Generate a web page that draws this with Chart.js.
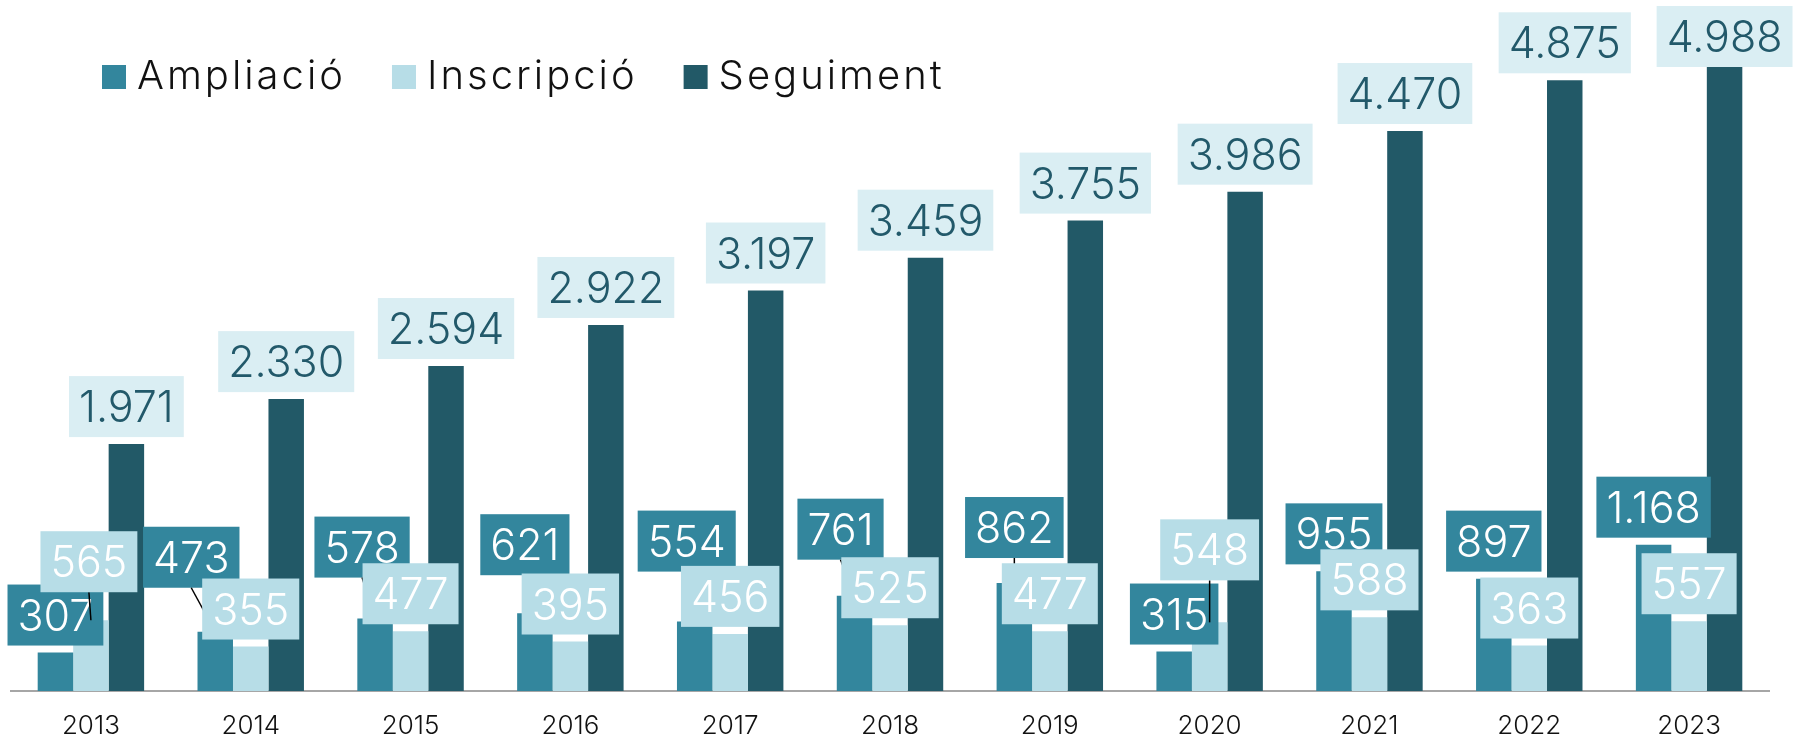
<!DOCTYPE html>
<html>
<head>
<meta charset="utf-8">
<script src="https://cdn.jsdelivr.net/npm/chart.js@4.4.1/dist/chart.umd.min.js"></script>
<style>
html,body{margin:0;padding:0;background:#fff}
#wrap{width:1796px;height:739px;position:relative}
</style>
</head>
<body>
<div id="wrap"><canvas id="chart"></canvas></div>
<script>
const years = ['2013','2014','2015','2016','2017','2018','2019','2020','2021','2022','2023'];
const ampliacio = [307,473,578,621,554,761,862,315,955,897,1168];
const inscripcio = [565,355,477,395,456,525,477,548,588,363,557];
const seguiment = [1971,2330,2594,2922,3197,3459,3755,3986,4470,4875,4988];
const seriesNames = ['Ampliació','Inscripció','Seguiment'];
const barColors = ['#33869d','#b7dde7','#225967'];

// hand-placed label nudges (px) from the original, relative to the default spot above each bar
const ampNudge = [[0,0],[-24,-37],[-13,-34],[-10,-31],[-8,-43],[-14,-29],[0,-18],[0,0],[0,0],[0,0],[0,0]];
const insNudge = [[-2,-21],[0,0],[0,0],[0,0],[0,0],[0,0],[0,0],[0,-35],[0,0],[0,0],[0,0]];

const FONT = 'Inter, "Noto Sans", sans-serif';
const fmt = v => String(v).replace(/\B(?=(\d{3})+(?!\d))/g, '.');

const labelPlugin = {
  id:'boxLabels',
  afterDatasetsDraw(chart){
    const ctx = chart.ctx;
    const styles = [
      {bg:'#33869d', fg:'#ffffff', nudge:ampNudge},
      {bg:'#b7dde7', fg:'#ffffff', nudge:insNudge},
      {bg:'#daeef3', fg:'#22596a', nudge:null}
    ];
    const boxH = 61;
    ctx.save();
    ctx.font = '300 43px ' + FONT;
    const items = styles.map((st,i)=>{
      const meta = chart.getDatasetMeta(i);
      return meta.data.map((bar,j)=>{
        const n = st.nudge ? st.nudge[j] : [0,0];
        const txt = fmt(chart.data.datasets[i].data[j]);
        const w = ctx.measureText(txt).width + 20;
        let cx = bar.x + n[0];
        let cy = bar.y - 37.5 + n[1];
        if(cy - boxH/2 < 6) cy = 6 + boxH/2;
        return {cx, cy, w, txt, st, bar, moved: Math.abs(n[0])>2 || Math.abs(n[1])>2};
      });
    });
    const drawBox = it=>{
      ctx.fillStyle = it.st.bg;
      ctx.fillRect(it.cx - it.w/2, it.cy - boxH/2, it.w, boxH);
      ctx.fillStyle = it.st.fg;
      ctx.textAlign = 'center';
      ctx.textBaseline = 'alphabetic';
      ctx.fillText(it.txt, it.cx, it.cy + 15.5);
    };
    items[0].forEach(drawBox);
    // leader lines for labels pulled away from their bar
    ctx.strokeStyle = '#000';
    ctx.lineWidth = 1.5;
    items[0].concat(items[1]).forEach(it=>{
      if(!it.moved) return;
      ctx.beginPath();
      ctx.moveTo(it.cx, it.cy + boxH/2);
      ctx.lineTo(it.bar.x, it.bar.y);
      ctx.stroke();
    });
    items[1].forEach(drawBox);
    items[2].forEach(drawBox);
    ctx.restore();
  }
};

const legendPlugin = {
  id:'topLegend',
  afterDraw(chart){
    const ctx = chart.ctx;
    ctx.save();
    ctx.font = '300 40px ' + FONT;
    ctx.letterSpacing = '3px';
    ctx.textBaseline = 'alphabetic';
    ctx.textAlign = 'left';
    let x = 102;
    chart.data.datasets.forEach(ds=>{
      ctx.fillStyle = ds.backgroundColor;
      ctx.fillRect(x, 65, 24, 24);
      ctx.fillStyle = '#111';
      ctx.fillText(ds.label, x + 35, 89);
      x += 35 + ctx.measureText(ds.label).width + 46;
    });
    ctx.restore();
  }
};

new Chart(document.getElementById('chart'), {
  type:'bar',
  data:{
    labels: years,
    datasets:[
      {label:seriesNames[0], data:ampliacio, backgroundColor:barColors[0]},
      {label:seriesNames[1], data:inscripcio, backgroundColor:barColors[1]},
      {label:seriesNames[2], data:seguiment, backgroundColor:barColors[2]}
    ]
  },
  options:{
    responsive:true,
    maintainAspectRatio:false,
    animation:false,
    devicePixelRatio:1,
    layout:{padding:{top:2, left:11, right:27, bottom:0}},
    datasets:{bar:{categoryPercentage:0.666, barPercentage:1, borderWidth:0}},
    plugins:{legend:{display:false}, tooltip:{enabled:false}},
    scales:{
      x:{
        grid:{display:false, drawTicks:false, tickLength:0},
        border:{display:true, color:'#a6a6a6', width:2},
        ticks:{color:'#111', font:{family:FONT, size:26, weight:'300'}, padding:20},
        afterFit(scale){ scale.height = 48; }
      },
      y:{display:false, min:0, max:5500}
    }
  },
  plugins:[labelPlugin, legendPlugin]
});
</script>
</body>
</html>
